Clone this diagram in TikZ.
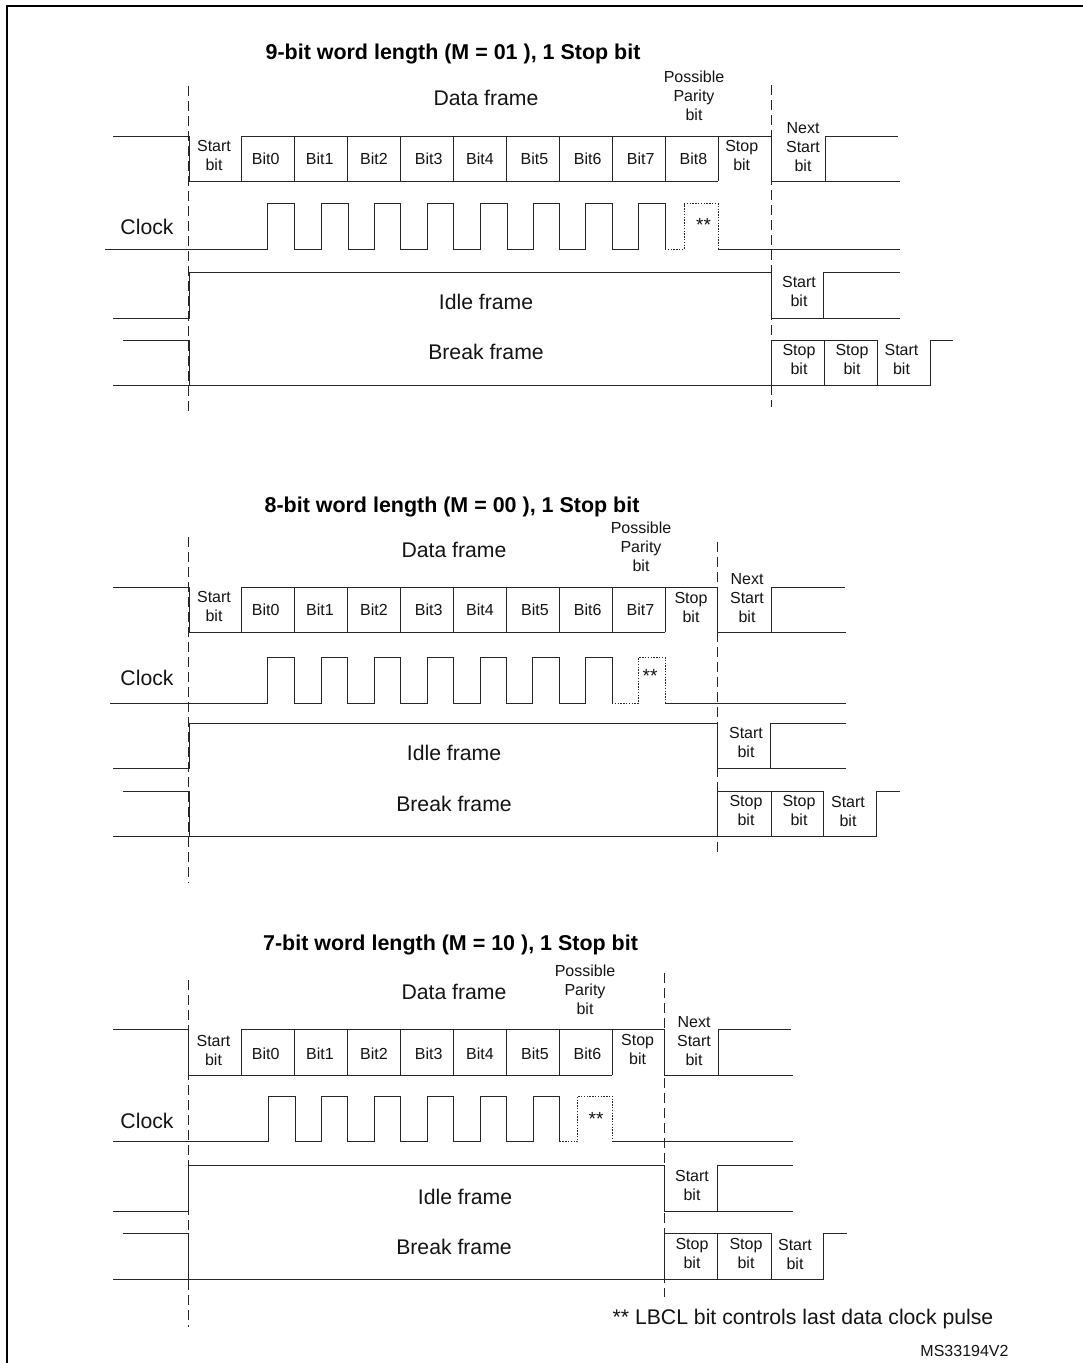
\documentclass[tikz,border=0pt]{standalone}
\usepackage{fontspec}
\setmainfont{Liberation Sans}
\tikzset{
  sig/.style={draw=black!85,line width=1pt,line join=miter},
  dotsig/.style={draw=black!85,line width=1pt,dash pattern=on 1.4pt off 1.4pt},
  guide/.style={draw=black!85,line width=1pt,dash pattern=on 10pt off 5pt},
  frameline/.style={draw=black,line width=2pt},
  small/.style={font=\fontsize{16}{19}\selectfont,align=center,inner sep=0pt,text=black!92},
  stars/.style={font=\fontsize{19}{19}\selectfont,inner sep=0pt,text=black!92},
  big/.style={font=\fontsize{21.2}{25}\selectfont,inner sep=0pt,text=black!92},
  ttl/.style={font=\fontsize{21.45}{25}\selectfont\bfseries,inner sep=0pt,text=black},
}
\begin{document}
\begin{tikzpicture}[x=1pt,y=-1pt]
\useasboundingbox (0,0) rectangle (1082,1363);
\fill[white] (0,0) rectangle (1082,1363);
\draw[frameline] (7.3,1370) -- (7.3,5.5) -- (1090,5.5);

% ---------- 9-bit ----------
\node[ttl] (ta) at (453,54) {9-bit word length (M = 01 ), 1 Stop bit};
\draw[guide] (188.7,86) -- (188.7,415);
\draw[guide] (771,85) -- (771,407);
\draw[sig] (113,136) -- (189,136) -- (189,181) -- (718,181);
\draw[sig] (241.5,181) -- (241.5,136) -- (771,136) -- (771,181) -- (900,181);
\foreach \x in {294.5,347.5,400.5,453.5,506.5,559.5,612,665,718} \draw[sig] (\x,136) -- (\x,181);
\draw[sig] (825,181) -- (825,136) -- (898,136);
\draw[sig] (105,249) -- (267.3,249) -- (267.3,203.5) -- (294.5,203.5) -- (294.5,249) -- (321,249) -- (321,203.5) -- (348,203.5) -- (348,249) -- (374.5,249) -- (374.5,203.5) -- (400.5,203.5) -- (400.5,249) -- (427,249) -- (427,203.5) -- (453.5,203.5) -- (453.5,249) -- (480,249) -- (480,203.5) -- (507,203.5) -- (507,249) -- (533,249) -- (533,203.5) -- (559.5,203.5) -- (559.5,249) -- (585.5,249) -- (585.5,203.5) -- (612,203.5) -- (612,249) -- (638,249) -- (638,203.5) -- (665,203.5) -- (665,249);
\draw[dotsig] (665,249) -- (684.3,249) -- (684.3,203.5) -- (718,203.5) -- (718,249);
\draw[sig] (718,249) -- (900,249);
\draw[sig] (113,318) -- (189,318) -- (189,272) -- (771,272) -- (771,318) -- (900,318);
\draw[sig] (823.7,318) -- (823.7,272) -- (900,272);
\draw[sig] (123,340) -- (189,340) -- (189,385.5);
\draw[sig] (113,385.5) -- (930,385.5) -- (930,340) -- (953,340);
\draw[sig] (771,385.5) -- (771,340) -- (877.5,340) -- (877.5,385.5);
\draw[sig] (824.3,340) -- (824.3,385.5);

\node[big] (dfa) at (486,98) {Data frame};
\node[small] (ssa) at (214,155.5) {Start\\bit};
\foreach \n/\x in {0/265.7,1/319.7,2/374,3/428.7,4/480,5/534.5,6/587.7,7/640.7,8/693.5}
  \node[small] (ba\n) at (\x,159) {Bit\n};
\node[small] (spa) at (741.7,155.5) {Stop\\bit};
\node[small] (ppa) at (694,95.5) {Possible\\Parity\\bit};
\node[small] (nsa) at (803,147) {Next\\Start\hspace*{4pt}\\bit};
\node[big] (cka) at (147,227) {Clock};
\node[stars] (asta) at (703.5,225) {**};
\node[big] (ifa) at (486,302) {Idle frame};
\node[big] (bfa) at (486,352) {Break frame};
\node[small] (sia) at (799,291) {Start\\bit};
\node[small] (sba) at (799,359) {Stop\\bit};
\node[small] (sbb) at (852,359) {Stop\\bit};
\node[small] (sbc) at (901.5,359.5) {Start\\bit};

% ---------- 8-bit ----------
\node[ttl] (tb) at (452,507) {8-bit word length (M = 00 ), 1 Stop bit};
\draw[guide] (188.7,537) -- (188.7,883);
\draw[guide] (717.7,542) -- (717.7,855);
\draw[sig] (113,587) -- (189,587) -- (189,632) -- (665,632);
\draw[sig] (241.5,632) -- (241.5,587) -- (717.7,587) -- (717.7,632) -- (846,632);
\foreach \x in {294.5,347.5,400.5,453.5,506,559,612,665} \draw[sig] (\x,587) -- (\x,632);
\draw[sig] (771.7,632) -- (771.7,587) -- (845,587);
\draw[sig] (110,703) -- (267.7,703) -- (267.7,657.5) -- (294.5,657.5) -- (294.5,703) -- (321,703) -- (321,657.5) -- (347.5,657.5) -- (347.5,703) -- (374,703) -- (374,657.5) -- (400.5,657.5) -- (400.5,703) -- (427,703) -- (427,657.5) -- (453.5,657.5) -- (453.5,703) -- (480,703) -- (480,657.5) -- (506,657.5) -- (506,703) -- (532,703) -- (532,657.5) -- (559,657.5) -- (559,703) -- (585,703) -- (585,657.5) -- (612,657.5) -- (612,703);
\draw[dotsig] (612,703) -- (638.5,703) -- (638.5,657.5) -- (665,657.5) -- (665,703);
\draw[sig] (665,703) -- (846,703);
\draw[sig] (113,768) -- (189,768) -- (189,723) -- (717.7,723) -- (717.7,768) -- (846,768);
\draw[sig] (770.5,768) -- (770.5,723) -- (846,723);
\draw[sig] (123,791) -- (189,791) -- (189,836);
\draw[sig] (113,836) -- (876.7,836) -- (876.7,791) -- (900,791);
\draw[sig] (717.7,836) -- (717.7,791) -- (823.7,791) -- (823.7,836);
\draw[sig] (771,791) -- (771,836);

\node[big] (dfb) at (454,549.5) {Data frame};
\node[small] (ssb) at (214,606.5) {Start\\bit};
\foreach \n/\x in {0/265.7,1/320,2/374,3/428.7,4/480,5/535,6/587.7,7/640.5}
  \node[small] (bb\n) at (\x,610) {Bit\n};
\node[small] (spb) at (691,607.5) {Stop\\bit};
\node[small] (ppb) at (641,546.5) {Possible\\Parity\\bit};
\node[small] (nsb) at (747,598) {Next\\Start\hspace*{4pt}\\bit};
\node[big] (ckb) at (147,678) {Clock};
\node[stars] (astb) at (650,676) {**};
\node[big] (ifb) at (454,753) {Idle frame};
\node[big] (bfb) at (454,804) {Break frame};
\node[small] (sib) at (746,742.5) {Start\\bit};
\node[small] (sbd) at (746,810.5) {Stop\\bit};
\node[small] (sbe) at (799,810.5) {Stop\\bit};
\node[small] (sbf) at (848,811.5) {Start\\bit};

% ---------- 7-bit ----------
\node[ttl] (tc) at (450.5,945) {7-bit word length (M = 10 ), 1 Stop bit};
\draw[guide] (188.5,980) -- (188.5,1327);
\draw[guide] (664.4,973) -- (664.4,1297);
\draw[sig] (113,1029.5) -- (188.5,1029.5) -- (188.5,1075) -- (612,1075);
\draw[sig] (241.7,1075) -- (241.7,1029.5) -- (664.4,1029.5) -- (664.4,1075) -- (793,1075);
\foreach \x in {294.5,347.5,400.3,453.3,506,559.4,612} \draw[sig] (\x,1029.5) -- (\x,1075);
\draw[sig] (718,1075) -- (718,1029.5) -- (791,1029.5);
\draw[sig] (113,1141.7) -- (268,1141.7) -- (268,1096) -- (295,1096) -- (295,1141.7) -- (321.5,1141.7) -- (321.5,1096) -- (347.5,1096) -- (347.5,1141.7) -- (374,1141.7) -- (374,1096) -- (400.5,1096) -- (400.5,1141.7) -- (427,1141.7) -- (427,1096) -- (453.5,1096) -- (453.5,1141.7) -- (480,1141.7) -- (480,1096) -- (506,1096) -- (506,1141.7) -- (533,1141.7) -- (533,1096) -- (559.5,1096) -- (559.5,1141.7);
\draw[dotsig] (559.5,1141.7) -- (577.5,1141.7) -- (577.5,1096) -- (612,1096) -- (612,1141.7);
\draw[sig] (612,1141.7) -- (793,1141.7);
\draw[sig] (113,1211) -- (188.5,1211) -- (188.5,1165.7) -- (664.4,1165.7) -- (664.4,1211) -- (793,1211);
\draw[sig] (717,1211) -- (717,1165.7) -- (793,1165.7);
\draw[sig] (123,1233.7) -- (188.5,1233.7) -- (188.5,1279);
\draw[sig] (113,1279) -- (823.6,1279) -- (823.6,1233.7) -- (847,1233.7);
\draw[sig] (664.4,1279) -- (664.4,1233.7) -- (771.6,1233.7) -- (771.6,1279);
\draw[sig] (717.5,1233.7) -- (717.5,1279);

\node[big] (dfc) at (454,992) {Data frame};
\node[small] (ssc) at (213.5,1050) {Start\\bit};
\foreach \n/\x in {0/265.7,1/320,2/374,3/428.7,4/480,5/535,6/587.5}
  \node[small] (bc\n) at (\x,1054) {Bit\n};
\node[small] (spc) at (637.6,1049.5) {Stop\\bit};
\node[small] (ppc) at (585,990) {Possible\\Parity\\bit};
\node[small] (nsc) at (694,1041) {Next\\Start\hspace*{4pt}\\bit};
\node[big] (ckc) at (147,1121) {Clock};
\node[stars] (astc) at (596,1119) {**};
\node[big] (ifc) at (465,1197) {Idle frame};
\node[big] (bfc) at (454,1247) {Break frame};
\node[small] (sic) at (692,1185.5) {Start\\bit};
\node[small] (sbg) at (692,1253.5) {Stop\\bit};
\node[small] (sbh) at (746,1253.5) {Stop\\bit};
\node[small] (sbi) at (795,1254.5) {Start\\bit};

\node[big] (note) at (803,1319) {** LBCL bit controls last data clock pulse};
\node[small] (ms) at (964.5,1351) {MS33194V2};
\end{tikzpicture}
\end{document}
